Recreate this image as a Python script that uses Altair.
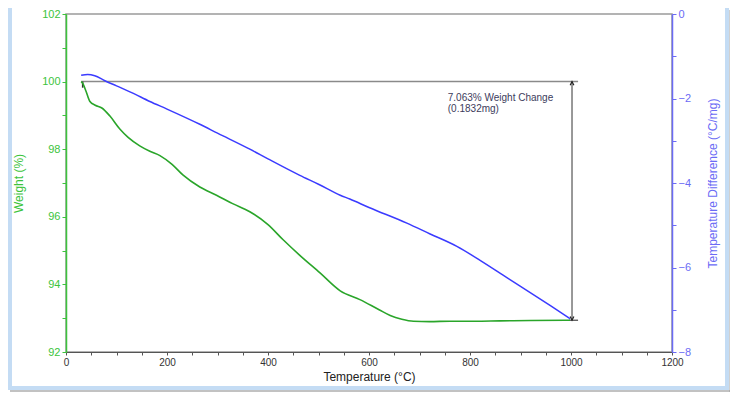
import altair as alt
import pandas as pd

# Weight (%) curve (green, left axis)
w_temp = [30, 33, 40, 47, 58, 71, 87, 107, 123, 146, 166, 186, 210, 232, 265, 298, 330,
          364, 400, 430, 463, 503, 543, 582, 620, 642, 665, 688, 720, 760, 810, 859, 920, 998]
w_vals = [100.0, 99.95, 99.7, 99.42, 99.3, 99.22, 98.98, 98.59, 98.35, 98.10, 97.94, 97.81,
          97.55, 97.23, 96.88, 96.64, 96.39, 96.15, 95.77, 95.32, 94.86, 94.34, 93.81, 93.55,
          93.25, 93.08, 92.97, 92.91, 92.90, 92.91, 92.91, 92.92, 92.93, 92.94]

# Temperature difference (blue, right axis)
d_temp = [30, 43, 57, 77, 100, 130, 166, 200, 265, 300, 364, 400, 463, 500, 543, 562, 600,
          675, 720, 774, 820, 873, 920, 960, 998]
d_vals = [-1.45, -1.43, -1.46, -1.58, -1.70, -1.86, -2.07, -2.25, -2.61, -2.82, -3.20, -3.43,
          -3.82, -4.03, -4.29, -4.38, -4.58, -4.95, -5.20, -5.50, -5.83, -6.24, -6.60, -6.91, -7.21]

# Annotation values
ref_level = 100.0
end_level = 92.94
arrow_temp = 1002
ref_start, ref_end = 30, 1014
label_lines = ["7.063% Weight Change", "(0.1832mg)"]
label_temp = 756
label_levels = [99.52, 99.18]

GREEN_LINE = "#2aa52a"
GREEN_AXIS = "#3cc43c"
BLUE_LINE = "#3b3bff"
BLUE_AXIS = "#6b6bf5"
FRAME = "#c4dcf4"

df_w = pd.DataFrame({"t": w_temp, "w": w_vals})
df_d = pd.DataFrame({"t": d_temp, "d": d_vals})
df_h = pd.DataFrame({"t": [ref_start], "t2": [ref_end], "w": [ref_level]})
df_hb = pd.DataFrame({"t": [996], "t2": [ref_end], "w": [end_level]})
df_v = pd.DataFrame({"t": [arrow_temp], "w": [ref_level], "w2": [end_level]})
df_s = pd.DataFrame({"t": [33], "w": [ref_level], "w2": [99.82]})
df_up = pd.DataFrame({"t": [arrow_temp], "w": [ref_level]})
df_dn = pd.DataFrame({"t": [arrow_temp], "w": [end_level]})
df_txt = pd.DataFrame({"t": [label_temp] * 2, "w": label_levels, "label": label_lines})

x_axis = alt.Axis(
    values=list(range(0, 1201, 50)), format="d",
    labelExpr="datum.value % 200 === 0 ? datum.label : ''",
    title="Temperature (°C)", titleFontSize=12, titleFontWeight="normal", titleColor="#222",
    titlePadding=4, labelFontSize=10, labelColor="#333", domainColor="#555",
    tickColor="#555", tickSize=3, labelPadding=2, grid=False, labelFlush=False,
    labelOverlap=False, zindex=1, labelFont="Liberation Sans", titleFont="Liberation Sans",
)
X = alt.X("t:Q", scale=alt.Scale(domain=[0, 1200], nice=False, zero=False), axis=x_axis)

left_axis = alt.Axis(
    values=[92 + 0.5 * i for i in range(21)], format="d",
    labelExpr="datum.value % 2 === 0 ? datum.label : ''",
    title="Weight (%)", titleFontSize=12, titleFontWeight="normal", titleColor=GREEN_AXIS,
    titlePadding=16, labelFontSize=11, labelColor=GREEN_AXIS, domainColor=GREEN_AXIS,
    domainWidth=1.5, tickColor=GREEN_AXIS, tickSize=4, labelPadding=2, grid=False,
    labelOverlap=False, labelFlush=False, zindex=1, labelFont="Liberation Sans",
    titleFont="Liberation Sans",
)
left_scale = alt.Scale(domain=[92, 102], nice=False, zero=False)


def YL(field):
    return alt.Y(field, type="quantitative", scale=left_scale, axis=left_axis)


right_axis = alt.Axis(
    orient="right", format="d",
    values=[-8 + 0.5 * i for i in range(17)],
    labelExpr="datum.value % 2 === 0 ? datum.label : ''",
    title="Temperature Difference (°C/mg)", titleFontSize=12, titleFontWeight="normal",
    titleColor=BLUE_AXIS, titlePadding=29, titleAngle=270, titleBaseline="bottom",
    labelFontSize=11, labelColor=BLUE_AXIS,
    domainColor=BLUE_AXIS, domainWidth=1.5, tickColor=BLUE_AXIS, tickSize=4,
    labelPadding=2, grid=False, labelOverlap=False, labelFlush=False, zindex=1,
    labelFont="Liberation Sans", titleFont="Liberation Sans",
)

green = alt.Chart(df_w).mark_line(color=GREEN_LINE, strokeWidth=1.6,
                                  interpolate="monotone").encode(x=X, y=YL("w"))

hline = alt.Chart(df_h).mark_rule(color="#8a8a8a", strokeWidth=1.5).encode(
    x=X, x2="t2", y=YL("w"))
hline_b = alt.Chart(df_hb).mark_rule(color="#444", strokeWidth=1.2).encode(
    x=X, x2="t2", y=YL("w"))
vline = alt.Chart(df_v).mark_rule(color="#555", strokeWidth=1.2).encode(
    x=X, y=YL("w"), y2="w2")
sline = alt.Chart(df_s).mark_rule(color="#333", strokeWidth=1.5).encode(
    x=X, y=YL("w"), y2="w2")
up = alt.Chart(df_up).mark_point(
    shape="M-1,2L0,0L1,2", size=14, color="#222", filled=False, strokeWidth=1.2,
    opacity=1).encode(x=X, y=YL("w"))
dn = alt.Chart(df_dn).mark_point(
    shape="M-1,-2L0,0L1,-2", size=14, color="#222", filled=False, strokeWidth=1.2,
    opacity=1).encode(x=X, y=YL("w"))
txt = alt.Chart(df_txt).mark_text(
    align="left", baseline="middle", fontSize=10, color="#3c3c5c",
    font="Liberation Sans").encode(x=X, y=YL("w"), text="label:N")

# decorative frame around the figure (pixel offsets from the plot origin)
frame_l = alt.Chart(df_up).mark_rect(color=FRAME).encode(
    x=alt.value(-58), x2=alt.value(-54), y=alt.value(-6), y2=alt.value(376))
frame_r = alt.Chart(df_up).mark_rect(color=FRAME).encode(
    x=alt.value(659), x2=alt.value(663), y=alt.value(-6), y2=alt.value(376))
frame_b = alt.Chart(df_up).mark_rect(color=FRAME).encode(
    x=alt.value(-58), x2=alt.value(663), y=alt.value(372), y2=alt.value(376))
shadow_r = alt.Chart(df_up).mark_rect(color="#b0b0b0", opacity=0.6).encode(
    x=alt.value(663), x2=alt.value(664), y=alt.value(-4), y2=alt.value(378))
shadow_b = alt.Chart(df_up).mark_rect(color="#9a9a9a", opacity=0.6).encode(
    x=alt.value(-56), x2=alt.value(664), y=alt.value(376), y2=alt.value(378))

left = alt.layer(frame_l, frame_r, frame_b, shadow_r, shadow_b,
                 hline, hline_b, vline, sline, green, up, dn, txt)

blue = alt.Chart(df_d).mark_line(color=BLUE_LINE, strokeWidth=1.5,
                                 interpolate="monotone").encode(
    x=X,
    y=alt.Y("d:Q", scale=alt.Scale(domain=[-8, 0], nice=False, zero=False), axis=right_axis),
)

chart = alt.layer(left, blue).resolve_scale(y="independent").properties(
    width=606, height=338,
    autosize=alt.AutoSizeParams(type="none"),
    padding={"left": 58, "top": 6, "right": 58, "bottom": 40},
    background="white",
).configure_view(stroke="#9a9a9a", strokeWidth=1.5)

chart.save("out.html", embed_options={"renderer": "svg", "actions": False})
